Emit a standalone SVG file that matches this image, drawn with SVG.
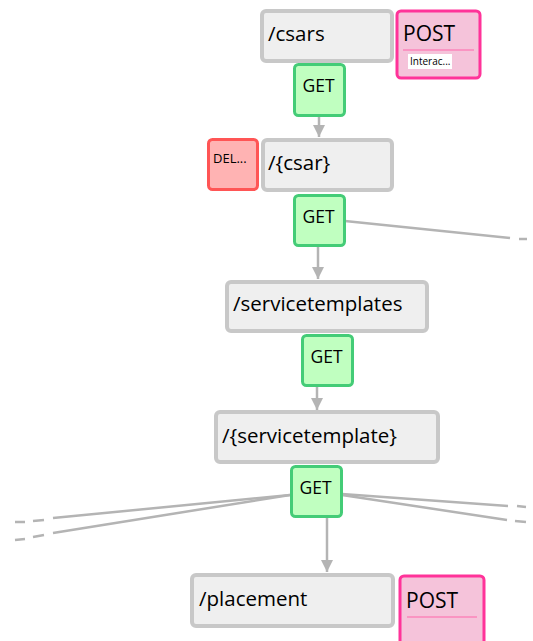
<svg xmlns="http://www.w3.org/2000/svg" width="533" height="641" viewBox="0 0 533 641">
<style>
.res rect{fill:#efefef;stroke:#c8c8c8;stroke-width:4}
.get rect{fill:#c0ffc0;stroke:#44cc77;stroke-width:3}
.post rect.b{fill:#f5c3da;stroke:#ff3399;stroke-width:3}
.del rect{fill:#ffb3b3;stroke:#ff5555;stroke-width:3}
text{font-family:"Open Sans","Noto Sans","Liberation Sans",sans-serif;fill:#000}
.rt{font-size:20.5px}
.gt{font-size:17.5px;text-anchor:middle}
.pt{font-size:21px}
.edge{stroke:#b4b4b4;stroke-width:2.5;fill:none}
.dash{stroke:#b4b4b4;stroke-width:2.5;fill:none;stroke-dasharray:10 8}
</style>
<defs>
<marker id="ah" viewBox="0 0 10 10" refX="10" refY="5" markerWidth="5" markerHeight="5" orient="auto" markerUnits="strokeWidth">
<path d="M0,0 L10,5 L0,10 z" fill="#b4b4b4"/>
</marker>
</defs>
<g id="connectors">
<line class="edge" x1="319" y1="117" x2="319" y2="137" marker-end="url(#ah)"/>
<line class="edge" x1="318" y1="247" x2="318" y2="279" marker-end="url(#ah)"/>
<line class="edge" x1="317" y1="387" x2="317" y2="410" marker-end="url(#ah)"/>
<line class="edge" x1="327" y1="518" x2="327" y2="572" marker-end="url(#ah)"/>
<line class="edge" x1="345" y1="221" x2="510" y2="238"/>
<line class="dash" x1="519" y1="239" x2="527" y2="239"/>
<line class="edge" x1="290" y1="495" x2="53" y2="518"/>
<line class="edge" x1="290" y1="495" x2="53" y2="533"/>
<path class="edge" d="M33,521 L44,520 M15,522 L25,522"/>
<path class="edge" d="M33,537 L44,535 M15,540 L25,539"/>
<line class="edge" x1="342" y1="494" x2="508" y2="506"/>
<line class="edge" x1="342" y1="495" x2="507" y2="520"/>
<path class="edge" d="M517,506 L526,507 M515,521 L526,522"/>
</g>
<g id="csars" class="res"><rect x="262" y="11" width="130" height="50" rx="4"/><text class="rt" x="268" y="41">/csars</text></g>
<g id="post-csars" class="post"><rect class="b" x="397" y="11" width="83" height="67" rx="4"/><text class="pt" x="403" y="41">POST</text><line x1="403" y1="50" x2="474" y2="50" stroke="#ff66aa" stroke-width="1.2"/><rect x="408" y="54" width="44" height="15" fill="#ffffff"/><text x="410" y="65" font-size="10">Interac...</text></g>
<g id="get-csars" class="get"><rect x="294.5" y="64.5" width="50" height="51" rx="4"/><text class="gt" x="318.5" y="92">GET</text></g>
<g id="del-csar" class="del"><rect x="208.5" y="139.5" width="49" height="50" rx="4"/><text x="213" y="163" font-size="13">DEL...</text></g>
<g id="csar" class="res"><rect x="263" y="140" width="129" height="50" rx="4"/><text class="rt" x="268" y="170">/{csar}</text></g>
<g id="get-csar" class="get"><rect x="294.5" y="195.5" width="50" height="50" rx="4"/><text class="gt" x="318.5" y="223">GET</text></g>
<g id="servicetemplates" class="res"><rect x="227" y="282" width="200" height="49" rx="4"/><text class="rt" x="233" y="311">/servicetemplates</text></g>
<g id="get-servicetemplates" class="get"><rect x="302.5" y="335.5" width="50" height="50" rx="4"/><text class="gt" x="326.5" y="363">GET</text></g>
<g id="servicetemplate" class="res"><rect x="216" y="412" width="222" height="50" rx="4"/><text class="rt" x="222" y="443">/{servicetemplate}</text></g>
<g id="get-servicetemplate" class="get"><rect x="291.5" y="466.5" width="50" height="50" rx="4"/><text class="gt" x="315.5" y="494">GET</text></g>
<g id="placement" class="res"><rect x="192" y="575" width="201" height="51" rx="4"/><text class="rt" x="199" y="606">/placement</text></g>
<g id="post-placement" class="post"><rect class="b" x="400" y="576" width="84" height="75" rx="4"/><text class="pt" x="406" y="608">POST</text><line x1="407" y1="617" x2="477" y2="617" stroke="#ff66aa" stroke-width="1.2"/></g>
</svg>
